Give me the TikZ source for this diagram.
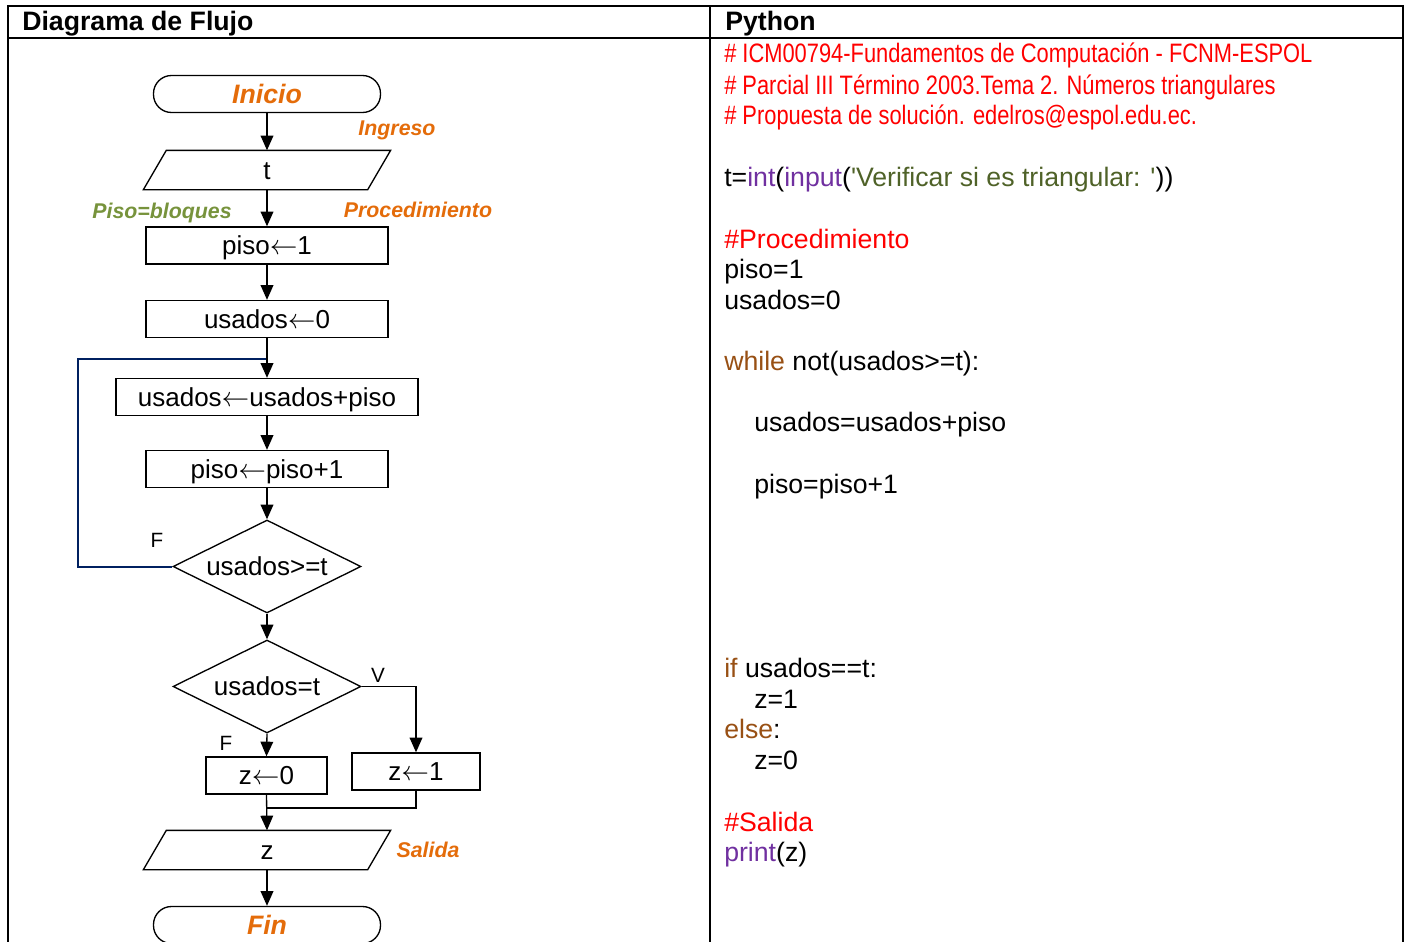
\documentclass[tikz,border=0pt]{standalone}
\usepackage{fontspec}
\setmainfont{Liberation Sans}
\newfontfamily\angosta[FakeStretch=0.82]{Liberation Sans}
\usetikzlibrary{shapes.geometric,arrows.meta}

\definecolor{naranja}{RGB}{228,108,10}
\definecolor{verdeeti}{RGB}{119,147,60}
\definecolor{verdecod}{RGB}{79,98,40}
\definecolor{morado}{RGB}{112,48,160}
\definecolor{marron}{RGB}{152,80,20}
\definecolor{azul}{RGB}{0,32,96}
\definecolor{rojo}{RGB}{255,0,0}

\newcommand{\asig}{$\leftarrow$}

\begin{document}
\begin{tikzpicture}[x=0.75pt, y=-0.75pt,
        every node/.style={inner sep=0pt},
        caja/.style={draw, line width=1pt, minimum height=27.75pt, text height=14pt, text depth=0pt, font=\fontsize{19.5}{22}\selectfont},
        terminal/.style={caja, rounded corners=13.5pt, minimum width=170.25pt, font=\fontsize{20}{24}\selectfont\bfseries\itshape, text=naranja},
        datos/.style={caja, draw=none, minimum width=167.25pt, minimum height=28.5pt,
            append after command={\pgfextra{\draw[line width=1pt]
                ([xshift=-8.6pt]\tikzlastnode.south west) -- ([xshift=8.6pt]\tikzlastnode.north west)
                -- ([xshift=8.6pt]\tikzlastnode.north east) -- ([xshift=-8.6pt]\tikzlastnode.south east) -- cycle;}}},
        decision/.style={caja, diamond, shape aspect=2, minimum width=141pt, minimum height=69.75pt},
        flecha/.style={line width=1pt, -{Triangle[length=11pt,width=9.5pt]}},
        linea/.style={line width=1pt},
        lazo/.style={line width=1.5pt, azul},
        etiqueta/.style={anchor=base, font=\fontsize{16}{19}\selectfont\bfseries\itshape, text=naranja},
        rotulo/.style={anchor=base, font=\fontsize{15.5}{18}\selectfont},
        codigo/.style={anchor=base west, font=\fontsize{20}{23}\selectfont},
        comentario/.style={codigo, text=rojo},
        titulo/.style={anchor=base west, font=\fontsize{20}{24}\selectfont\bfseries},
        borde/.style={line width=1.5pt}
    ]
        \useasboundingbox (0,0) rectangle (1407,942);

        % Tabla
        \draw[borde] (8,942) -- (8,6) -- (1403,6) -- (1403,942);
        \draw[borde] (8,38) -- (1403,38);
        \draw[borde] (710,6) -- (710,942);
        \node[titulo] (tdiag) at (22,31) {Diagrama de Flujo};
        \node[titulo] (tpy) at (725,31) {Python};

        % Diagrama de flujo
        \node[terminal] (inicio) at (267,94) {Inicio};
        \node[datos] (ingreso) at (267,170) {t};
        \node[caja, minimum width=181.5pt] (piso1) at (267,245.5) {piso\asig1};
        \node[caja, minimum width=181.5pt] (usados0) at (267,319) {usados\asig0};
        \node[caja, minimum width=226.5pt] (suma) at (267,397) {usados\asig usados+piso};
        \node[caja, minimum width=181.5pt] (incr) at (267,469) {piso\asig piso+1};
        \node[decision] (cond1) at (267,566.5) {usados>=t};
        \node[decision] (cond2) at (267,686.5) {usados=t};
        \node[caja, minimum width=90.75pt] (z0) at (266.5,775.5) {z\asig0};
        \node[caja, minimum width=96pt] (z1) at (416,771.5) {z\asig1};
        \node[datos] (salida) at (267,850) {z};
        \node[terminal] (fin) at (267,925) {Fin};

        % Etiquetas
        \node[etiqueta] (lingreso) at (397,135) {Ingreso};
        \node[etiqueta, text=verdeeti] (lbloques) at (162,218) {Piso=bloques};
        \node[etiqueta] (lproc) at (418,217) {Procedimiento};
        \node[etiqueta] (lsalida) at (428,857) {Salida};
        \node[rotulo] (f1) at (157,547) {F};
        \node[rotulo] (v2) at (378,682) {V};
        \node[rotulo] (f2) at (226,750) {F};

        % Conectores
        \coordinate (retorno) at (78,359);
        \coordinate (union) at (267,808);
        \draw[lazo] (cond1.west) -| (retorno) -- (suma.north |- retorno);
        \draw[flecha] (inicio) -- (ingreso);
        \draw[flecha] (ingreso) -- (piso1);
        \draw[flecha] (piso1) -- (usados0);
        \draw[flecha] (usados0) -- (suma);
        \draw[flecha] (suma) -- (incr);
        \draw[flecha] (incr) -- (cond1);
        \draw[flecha] (cond1) -- (cond2);
        \draw[flecha] (cond2.east) -| (z1.north);
        \draw[flecha] (cond2.south) -- (z0.north);
        \draw[linea] (z1.south) |- (union);
        \draw[flecha] (z0.south) -- (salida.north);
        \draw[flecha] (salida) -- (fin);

        % Codigo Python
        \node[comentario, font=\fontsize{20}{23}\angosta] (c1) at (724,63) {\# ICM00794-Fundamentos de Computación - FCNM-ESPOL};
        \node[comentario, font=\fontsize{20}{23}\angosta] (c2) at (724,94) {\# Parcial III Término 2003.Tema 2. Números triangulares};
        \node[comentario, font=\fontsize{20}{23}\angosta] (c3) at (724,124.5) {\# Propuesta de solución. edelros@espol.edu.ec.};
        \node[codigo] (l1) at (724,186) {t=\textcolor{morado}{int}(\textcolor{morado}{input}(\textcolor{verdecod}{\textquotesingle Verificar si es triangular: \textquotesingle}))};
        \node[comentario] (c4) at (724,248) {\#Procedimiento};
        \node[codigo] (l2) at (724,278.5) {piso=1};
        \node[codigo] (l3) at (724,309) {usados=0};
        \node[codigo] (l4) at (724,370) {\textcolor{marron}{while} not(usados>=t):};
        \node[codigo] (l5) at (754,431.5) {usados=usados+piso};
        \node[codigo] (l6) at (754,493) {piso=piso+1};
        \node[codigo] (l7) at (724,677) {\textcolor{marron}{if} usados==t:};
        \node[codigo] (l8) at (754,708) {z=1};
        \node[codigo] (l9) at (724,738) {\textcolor{marron}{else}:};
        \node[codigo] (l10) at (754,769) {z=0};
        \node[comentario] (c5) at (724,831) {\#Salida};
        \node[codigo] (l11) at (724,861) {\textcolor{morado}{print}(z)};
    \end{tikzpicture}
\end{document}
